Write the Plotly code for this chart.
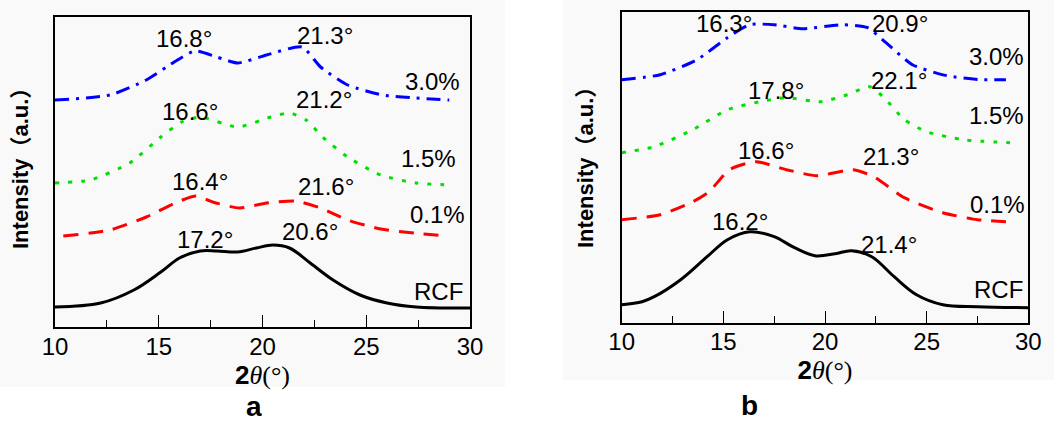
import plotly.graph_objects as go

# ---------------- Panel a data (2θ in degrees, intensity in a.u.) ----------------
a_blue_x = [10, 12.65, 14.4, 15.9, 16.75, 17.8, 18.8, 20.2, 21.9, 22.8, 24.1, 25.8, 27.4, 29.0]
a_blue_y = [227, 232, 247, 267, 276, 270, 264, 272, 280, 260, 242, 232, 229, 227]
a_green_x = [10, 11.7, 13.6, 15.1, 16.1, 17.0, 18.8, 20.4, 21.3, 22.1, 22.9, 24.1, 25.7, 27.4, 29.2]
a_green_y = [144, 147, 164, 190, 205, 210, 200, 210, 214, 207, 190, 170, 152, 144, 142]
a_red_x = [10.4, 12.65, 14.4, 15.9, 16.8, 17.6, 18.9, 20.2, 21.6, 22.8, 24.1, 25.7, 27.3, 28.9]
a_red_y = [91, 97, 110, 125, 131, 125, 119, 124, 126, 119, 107, 98, 94, 91]
a_black_x = [10, 12.2, 13.8, 15.1, 16.0, 17.0, 17.8, 18.8, 19.7, 20.5, 21.3, 22.3, 23.4, 24.7, 26.0, 27.4, 30]
a_black_y = [20, 24, 37, 55, 69, 76, 76, 75, 79, 82, 79, 64, 47, 32, 24, 20, 19]

# peak labels for panel a: (text, x, y)
a_peak_text = ["16.8°", "21.3°", "16.6°", "21.2°", "16.4°", "21.6°", "17.2°", "20.6°"]
a_peak_x = [16.24, 22.99, 16.51, 22.96, 16.99, 23.06, 17.23, 22.31]
a_peak_y = [289, 292, 216, 228, 146, 141, 88, 96]
a_series_text = ["3.0%", "1.5%", "0.1%", "RCF"]
a_series_x = [28.17, 28.02, 28.41, 28.46]
a_series_y = [246, 169, 113, 36]

# ---------------- Panel b data ----------------
b_blue_x = [10, 11.9, 13.7, 15.2, 16.3, 17.5, 18.9, 20.9, 22.1, 23.0, 24.3, 26.0, 27.6, 28.9]
b_blue_y = [243, 248, 263, 285, 298, 298, 294, 298, 295, 280, 258, 247, 243, 243]
b_green_x = [10, 11.6, 13.5, 15.2, 16.8, 18.1, 19.8, 21.1, 22.2, 23.0, 23.9, 25.0, 26.8, 29.1]
b_green_y = [170, 176, 193, 213, 221, 225, 221, 228, 236, 223, 203, 191, 183, 180]
b_red_x = [10, 11.9, 13.5, 14.3, 15.3, 16.6, 18.1, 19.6, 21.4, 22.4, 23.9, 25.8, 27.5, 28.9]
b_red_y = [103, 108, 121, 131, 153, 161, 153, 147, 153, 146, 125, 110, 103, 101]
b_black_x = [10, 11.0, 11.6, 12.9, 14.2, 15.2, 16.3, 17.5, 18.5, 19.5, 20.5, 21.3, 22.3, 23.4, 24.5, 25.8, 27.5, 30]
b_black_y = [18, 21, 26, 43, 66, 83, 91, 86, 75, 67, 69, 72, 66, 46, 28, 18, 16, 15]

b_peak_text = ["16.3°", "20.9°", "17.8°", "22.1°", "16.6°", "21.3°", "16.2°", "21.4°"]
b_peak_x = [15.03, 23.69, 17.57, 23.64, 17.12, 23.27, 15.82, 23.17]
b_peak_y = [298.7, 298.7, 232.7, 242.7, 172.7, 166.7, 101.7, 78.7]
b_series_text = ["3.0%", "1.5%", "0.1%", "RCF"]
b_series_x = [28.46, 28.44, 28.49, 28.53]
b_series_y = [265.7, 207.7, 118.7, 33.7]

x_ticks = [10, 15, 20, 25, 30]
panel_labels = ["a", "b"]
y_title = "Intensity（a.u.）"

FONT = "Arial, 'Liberation Sans', 'Noto Sans CJK SC', sans-serif"
BLUE, GREEN, RED, BLACK = "#0000ff", "#00e000", "#ff0000", "#000000"

fig = go.Figure()

def add_line(x, y, color, dash, xa, ya, width=3, smoothing=0.6):
    fig.add_trace(go.Scatter(
        x=x, y=y, mode="lines", xaxis=xa, yaxis=ya,
        line=dict(color=color, width=width, dash=dash, shape="spline", smoothing=smoothing),
        showlegend=False, hoverinfo="skip"))

for xa, ya, data in [
    ("x", "y", [(a_blue_x, a_blue_y, BLUE, "14px,7px,3px,7px"),
                (a_green_x, a_green_y, GREEN, "4px,9px"),
                (a_red_x, a_red_y, RED, "15px,10px"),
                (a_black_x, a_black_y, BLACK, "solid")]),
    ("x2", "y2", [(b_blue_x, b_blue_y, BLUE, "14px,7px,3px,7px"),
                  (b_green_x, b_green_y, GREEN, "4px,9px"),
                  (b_red_x, b_red_y, RED, "15px,10px"),
                  (b_black_x, b_black_y, BLACK, "solid")])]:
    for x, y, c, d in data:
        add_line(x, y, c, d, xa, ya, smoothing=1.0 if d == "solid" else 0.6)

annotations = []
for texts, xs, ys, xr, yr in [
    (a_peak_text + a_series_text, a_peak_x + a_series_x, a_peak_y + a_series_y, "x", "y"),
    (b_peak_text + b_series_text, b_peak_x + b_series_x, b_peak_y + b_series_y, "x2", "y2")]:
    for t, x, y in zip(texts, xs, ys):
        annotations.append(dict(text=t, x=x, y=y, xref=xr, yref=yr, showarrow=False,
                                font=dict(family=FONT, size=24, color="black"),
                                xanchor="center", yanchor="middle"))

W, H = 1054, 421

# panel letters
annotations.append(dict(text="<b>a</b>", x=254 / W, y=1 - 406 / H, xref="paper", yref="paper",
                        showarrow=False, font=dict(family=FONT, size=28, color="black"),
                        xanchor="center", yanchor="middle"))
annotations.append(dict(text="<b>b</b>", x=749 / W, y=1 - 405 / H, xref="paper", yref="paper",
                        showarrow=False, font=dict(family=FONT, size=28, color="black"),
                        xanchor="center", yanchor="middle"))

# y-axis titles (rotated)
for xp, yp in [(21, 163), (586, 162)]:
    annotations.append(dict(text="<b>" + y_title + "</b>", x=xp / W, y=1 - yp / H,
                            xref="paper", yref="paper", showarrow=False, textangle=-90,
                            font=dict(family=FONT, size=22, color="black"),
                            xanchor="center", yanchor="middle"))

xtitle = "<b>2</b><span style='font-family:\"Liberation Serif\", \"DejaVu Serif\", serif'><i>θ</i>(°)</span>"

def xaxis(domain, anchor):
    return dict(domain=domain, anchor=anchor, range=[10, 30], tickvals=x_ticks,
                ticks="inside", ticklen=12, tickwidth=1.3, tickcolor="black",
                minor=dict(dtick=2.5, tick0=10, ticks="inside", ticklen=7, tickwidth=1.3, tickcolor="black"),
                showline=True, linecolor="black", linewidth=1.5, mirror=True,
                showgrid=False, zeroline=False, automargin=False,
                ticklabelstandoff=-3,
                tickfont=dict(family=FONT, size=24, color="black"),
                title=dict(text=xtitle, font=dict(family=FONT, size=26, color="black"), standoff=2))

def yaxis(domain, anchor, rng):
    return dict(domain=domain, anchor=anchor, range=rng, showticklabels=False, ticks="",
                showline=True, linecolor="black", linewidth=1.5, mirror=True,
                showgrid=False, zeroline=False, automargin=False)

fig.update_layout(
    width=W, height=H,
    margin=dict(l=0, r=0, t=0, b=0, autoexpand=False),
    paper_bgcolor="white", plot_bgcolor="rgba(0,0,0,0)",
    xaxis=xaxis([55 / W, 470 / W], "y"),
    yaxis=yaxis([1 - 327 / H, 1 - 17 / H], "x", [0, 310]),
    xaxis2=xaxis([621.7 / W, 1028.3 / W], "y2"),
    yaxis2=yaxis([1 - 322.7 / H, 1 - 12 / H], "x2", [0, 310.7]),
    annotations=annotations,
    shapes=[
        dict(type="rect", xref="paper", yref="paper", x0=0, x1=505 / W, y0=1 - 387 / H, y1=1,
             fillcolor="#f9f9f9", line=dict(width=0), layer="below"),
        dict(type="rect", xref="paper", yref="paper", x0=563 / W, x1=1, y0=1 - 380 / H, y1=1,
             fillcolor="#f9f9f9", line=dict(width=0), layer="below"),
    ],
)

fig.write_html("out.html")
